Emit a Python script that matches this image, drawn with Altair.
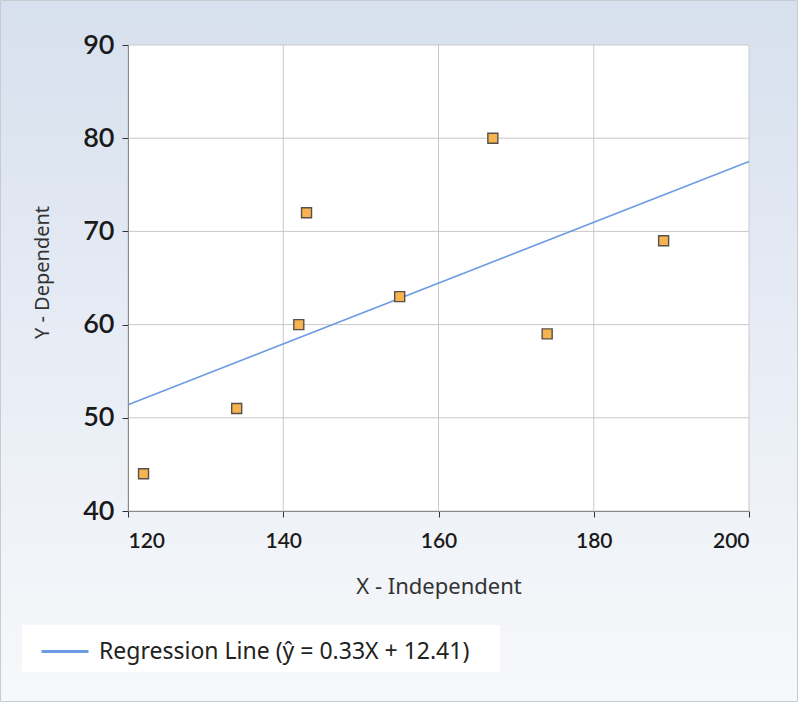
import altair as alt
import pandas as pd

# ---- data ----
x_vals = [122, 134, 142, 143, 155, 167, 174, 189]
y_vals = [44, 51, 60, 72, 63, 80, 59, 69]
line_x = [120, 200]
line_y = [51.4, 77.5]
x_ticks = [120, 140, 160, 180, 200]
y_ticks = [40, 50, 60, 70, 80, 90]
series_name = "Regression Line (\u0177 = 0.33X + 12.41)"

W, H = 621, 466
PL, PT, PR, PB = 128, 45, 51, 193

pts = pd.DataFrame({"x": x_vals, "y": y_vals})
line_df = pd.DataFrame({"x": line_x, "y": line_y, "series": [series_name] * len(line_x)})
xt = pd.DataFrame({"x": x_ticks})
yt = pd.DataFrame({"y": y_ticks})
one = pd.DataFrame({"k": [0]})

xs = alt.Scale(domain=[120, 200], nice=False, zero=False)
ys = alt.Scale(domain=[40, 90], nice=False, zero=False)

grid_col = "#c9c9c9"

bg = alt.Chart(one).mark_rect(
    fill=alt.Gradient(
        gradient="linear", x1=0, y1=0, x2=0, y2=1,
        stops=[alt.GradientStop(offset=0, color="#d7e0ee"),
               alt.GradientStop(offset=0.55, color="#e9eef6"),
               alt.GradientStop(offset=1, color="#f7f8fa")]),
    stroke="#c8ccd2", strokeWidth=1,
).encode(x=alt.value(-PL + 0.5), x2=alt.value(W + PR - 2.5),
         y=alt.value(-PT + 0.5), y2=alt.value(H + PB - 2.5))

plot_bg = alt.Chart(one).mark_rect(fill="white").encode(
    x=alt.value(0), x2=alt.value(W), y=alt.value(0), y2=alt.value(H))

legend_bg = alt.Chart(one).mark_rect(fill="white").encode(
    x=alt.value(22 - PL), x2=alt.value(500 - PL),
    y=alt.value(625 - PT), y2=alt.value(672 - PT))

vgrid = alt.Chart(xt).mark_rule(color=grid_col, strokeWidth=1).encode(
    x=alt.X("x:Q", scale=xs), y=alt.value(0), y2=alt.value(H))
hgrid = alt.Chart(yt).mark_rule(color=grid_col, strokeWidth=1).encode(
    y=alt.Y("y:Q", scale=ys), x=alt.value(0), x2=alt.value(W))

reg = alt.Chart(line_df).mark_line(strokeWidth=1.6).encode(
    x=alt.X("x:Q", scale=xs),
    y=alt.Y("y:Q", scale=ys),
    color=alt.Color("series:N",
                    scale=alt.Scale(range=["#6e9ce3"]),
                    legend=alt.Legend(
                        title=None, orient="none",
                        legendX=40 - PL, legendY=650 - 23.5 - PT,
                        symbolType="stroke", symbolSize=2209,
                        symbolStrokeWidth=3, labelFont="Noto Sans",
                        labelFontSize=23, labelColor="#222222",
                        labelOffset=9, zindex=1, labelLimit=700)),
)

points = alt.Chart(pts).mark_square(
    size=100, fill="#f6b34f", stroke="#55514c", strokeWidth=1.4, opacity=1
).encode(
    x=alt.X("x:Q", scale=xs, title="X - Independent",
            axis=alt.Axis(values=x_ticks, grid=False, zindex=1,
                          labelFont="Lato", labelFontSize=21, labelFontWeight=600,
                          labelColor="#1a1a1a", labelPadding=13,
                          tickColor="#333333", tickSize=6, domainColor="#8a8a8a",
                          titleFont="Noto Sans", titleFontSize=22,
                          titleFontWeight="normal", titleColor="#333333",
                          titleBaseline="middle", titleY=586 - 511)),
    y=alt.Y("y:Q", scale=ys, title="Y - Dependent",
            axis=alt.Axis(values=y_ticks, grid=False, zindex=1,
                          labelFont="Lato", labelFontSize=27, labelFontWeight=600,
                          labelColor="#1a1a1a", labelPadding=8,
                          tickColor="#333333", tickSize=6, domainColor="#8a8a8a",
                          titleFont="Noto Sans", titleFontSize=20,
                          titleFontWeight="normal", titleColor="#333333",
                          titleBaseline="middle", titleX=42 - PL, titleY=272 - PT)),
)

chart = alt.layer(bg, plot_bg, legend_bg, vgrid, hgrid, reg, points).properties(
    width=W, height=H,
    padding={"left": PL, "top": PT, "right": PR, "bottom": PB},
    autosize=alt.AutoSizeParams(type="none"),
    background="white",
).configure_view(strokeWidth=0)

chart.save("out.html", embed_options={"renderer": "svg", "actions": False})
